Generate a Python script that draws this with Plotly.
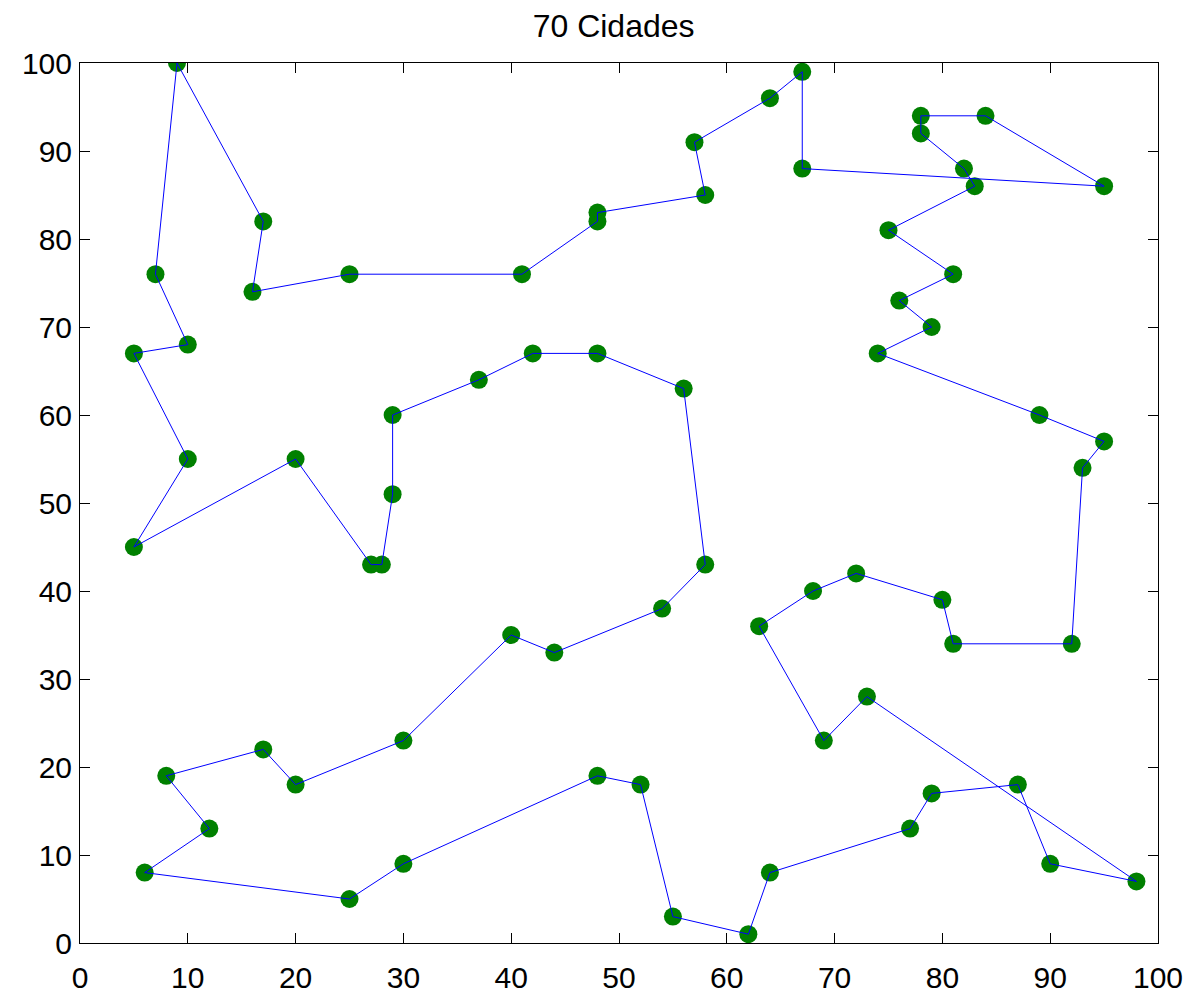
import plotly.graph_objects as go

# City coordinates in tour order (closed loop)
city_x = [9, 17, 16, 25, 41, 48, 48, 58, 57, 64, 67, 67, 95, 84, 78, 78, 82, 83, 75, 81,
          76, 79, 74, 89, 95, 93, 92, 81, 80, 72, 68, 63, 69, 73, 98, 90, 87, 79, 77, 64,
          62, 55, 52, 48, 30, 25, 6, 12, 8, 17, 20, 30, 40, 44, 54, 58, 56, 48, 42, 37,
          29, 29, 28, 27, 20, 5, 10, 5, 10, 7]
city_y = [100, 82, 74, 76, 76, 82, 83, 85, 91, 96, 99, 88, 86, 94, 94, 92, 88, 86, 81, 76,
          73, 70, 67, 60, 57, 54, 34, 34, 39, 42, 40, 36, 23, 28, 7, 9, 18, 17, 13, 8,
          1, 3, 18, 19, 9, 5, 8, 13, 19, 22, 18, 23, 35, 33, 38, 43, 63, 67, 67, 64,
          60, 51, 43, 43, 55, 45, 55, 67, 68, 76]

tick_vals = [0, 10, 20, 30, 40, 50, 60, 70, 80, 90, 100]
title_text = "70 Cidades"

route_x = city_x + [city_x[0]]
route_y = city_y + [city_y[0]]

fig = go.Figure()
fig.add_trace(go.Scatter(
    x=city_x, y=city_y, mode="markers",
    marker=dict(symbol="circle", size=18, color="#008000", line=dict(width=0)),
    hoverinfo="x+y", showlegend=False,
))
fig.add_trace(go.Scatter(
    x=route_x, y=route_y, mode="lines",
    line=dict(color="#0000ff", width=1),
    hoverinfo="skip", showlegend=False,
))

axis_common = dict(
    range=[0, 100], tickvals=tick_vals, ticks="inside", ticklen=10, tickwidth=1,
    tickcolor="black", showline=True, linecolor="black", linewidth=1, mirror="ticks",
    showgrid=False, zeroline=False, automargin=False,
    tickfont=dict(family="Liberation Sans, Arial, sans-serif", size=30, color="black"),
)

fig.update_xaxes(**axis_common, ticklabelstandoff=8)
fig.update_yaxes(**axis_common, ticklabelstandoff=1)

fig.update_layout(
    width=1191, height=992,
    margin=dict(l=72, r=41, t=55, b=57),
    paper_bgcolor="white", plot_bgcolor="white",
    title=dict(text=title_text, x=0.495, xref="paper", xanchor="center",
               y=1 - 18 / 992, yref="container", yanchor="middle", automargin=False,
               font=dict(family="Liberation Sans, Arial, sans-serif", size=32, color="black")),
)

fig.write_html("out.html")
